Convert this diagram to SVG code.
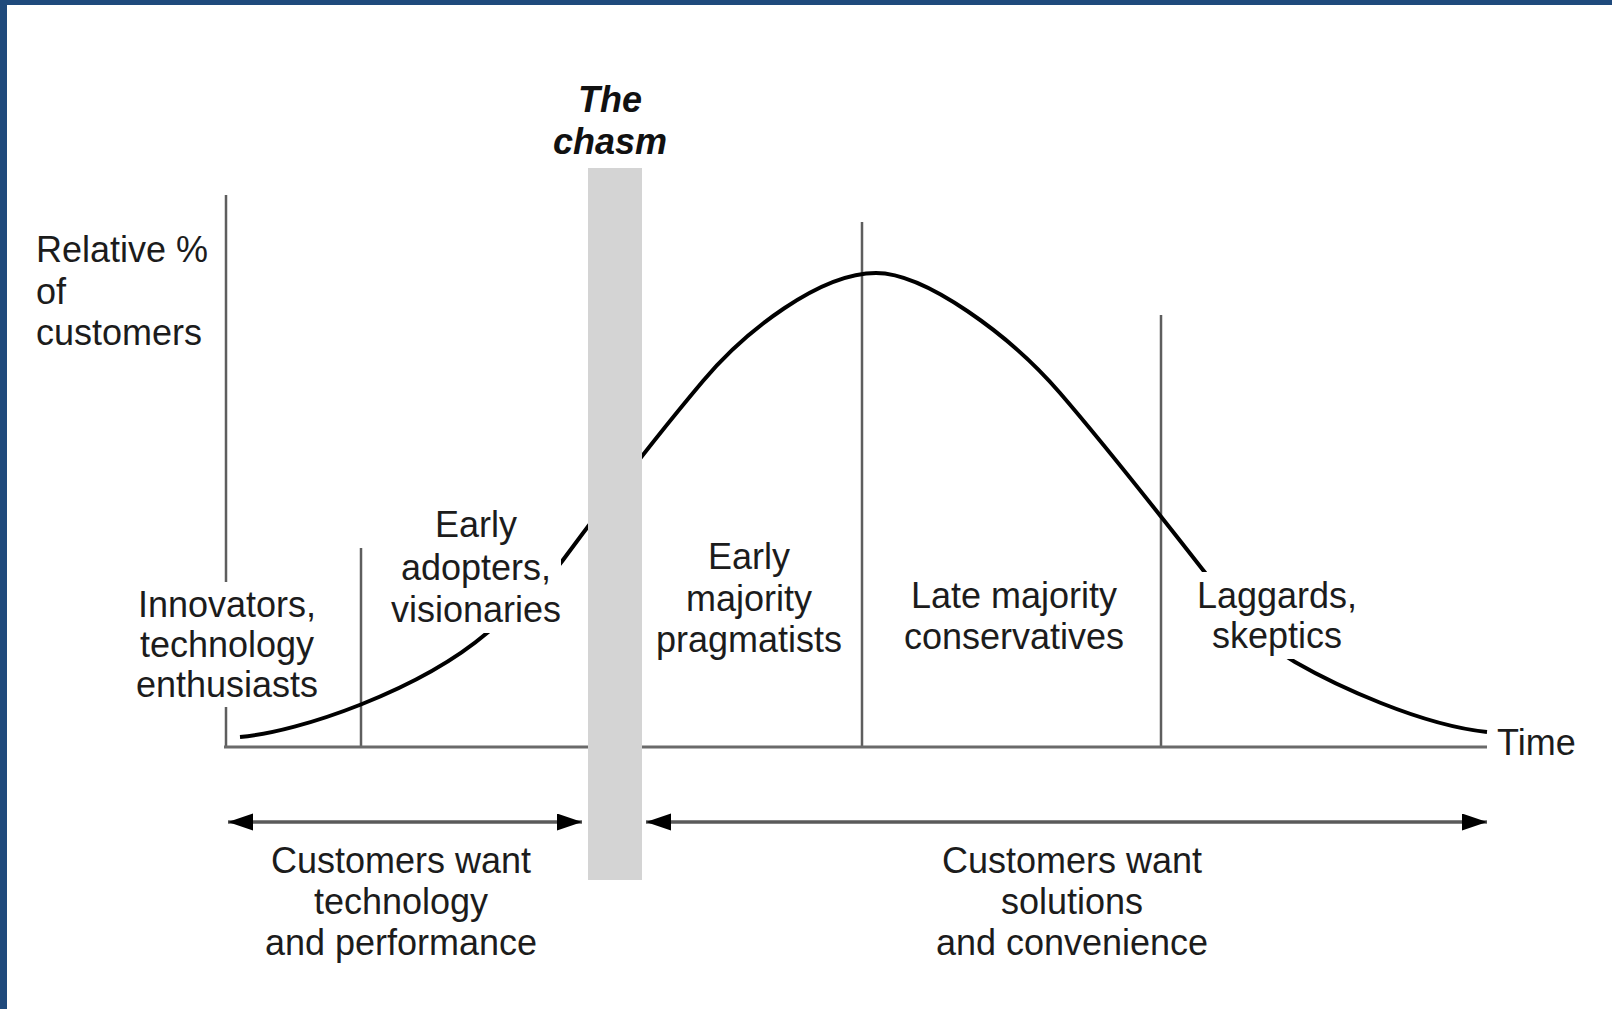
<svg xmlns="http://www.w3.org/2000/svg" width="1612" height="1009" viewBox="0 0 1612 1009">
<defs>
<style>
.t{font-family:"Liberation Sans",Arial,Helvetica,sans-serif;font-size:36px;fill:#1c1c1c;}
.c{text-anchor:middle;}
.bi{font-weight:bold;font-style:italic;fill:#111;}
.ax{stroke:#5e5e5e;stroke-width:2.5;fill:none;}
.base{stroke:#6a6a6a;stroke-width:3;fill:none;}
.curve{stroke:#000;stroke-width:4;fill:none;stroke-linecap:butt;}
.arr{stroke:#5a5a5a;stroke-width:3.5;fill:none;}
.mask{fill:#fff;}
</style>
<marker id="ah" markerUnits="userSpaceOnUse" markerWidth="26" markerHeight="18" refX="25" refY="8.5" orient="auto-start-reverse">
<path d="M0,0 L25,8.5 L0,17 Z" fill="#000"/>
</marker>
</defs>
<rect x="0" y="0" width="1612" height="1009" fill="#fff"/>
<rect x="0" y="0" width="1612" height="5" fill="#1f4a7c"/>
<rect x="0" y="0" width="7" height="1009" fill="#1f4a7c"/>

<g id="connectors">
<line class="ax" x1="226" y1="195" x2="226" y2="747"/>
<line class="ax" x1="361" y1="548" x2="361" y2="747"/>
<line class="ax" x1="862" y1="222" x2="862" y2="747"/>
<line class="ax" x1="1161" y1="315" x2="1161" y2="747"/>
<line class="base" x1="224" y1="747" x2="1487" y2="747"/>
<path class="curve" d="M240,737 C300,732 420,690 487,633 C515,610 545,585 563,560 C600,510 660,432 703,381 C745,331 820,273 876,273 C925,273 1010,335 1060,393 C1110,451 1160,515 1203,570 C1240,617 1265,645 1295,662 C1335,685 1420,725 1487,732"/>
<line class="arr" x1="228" y1="822" x2="582" y2="822" marker-start="url(#ah)" marker-end="url(#ah)"/>
<line class="arr" x1="646" y1="822" x2="1487" y2="822" marker-start="url(#ah)" marker-end="url(#ah)"/>
</g>

<g id="chasm">
<rect x="588" y="168" width="54" height="712" fill="#d4d4d4"/>
<text class="t c bi" x="610" y="112">The</text>
<text class="t c bi" x="610" y="154">chasm</text>
</g>

<g id="y-label">
<text class="t" x="36" y="262">Relative %</text>
<text class="t" x="36" y="304">of</text>
<text class="t" x="36" y="345">customers</text>
</g>

<g id="innovators">
<rect class="mask" x="131" y="582" width="192" height="125"/>
<text class="t c" x="227" y="617">Innovators,</text>
<text class="t c" x="227" y="657">technology</text>
<text class="t c" x="227" y="697">enthusiasts</text>
</g>

<g id="early-adopters">
<rect class="mask" x="385" y="503" width="176" height="130"/>
<text class="t c" x="476" y="537">Early</text>
<text class="t c" x="476" y="580">adopters,</text>
<text class="t c" x="476" y="622">visionaries</text>
</g>

<g id="early-majority">
<text class="t c" x="749" y="569">Early</text>
<text class="t c" x="749" y="611">majority</text>
<text class="t c" x="749" y="652">pragmatists</text>
</g>

<g id="late-majority">
<text class="t c" x="1014" y="608">Late majority</text>
<text class="t c" x="1014" y="649">conservatives</text>
</g>

<g id="laggards">
<rect class="mask" x="1190" y="572" width="172" height="87"/>
<text class="t c" x="1277" y="608">Laggards,</text>
<text class="t c" x="1277" y="648">skeptics</text>
</g>

<g id="time-label">
<text class="t" x="1497" y="755">Time</text>
</g>

<g id="want-technology">
<text class="t c" x="401" y="873">Customers want</text>
<text class="t c" x="401" y="914">technology</text>
<text class="t c" x="401" y="955">and performance</text>
</g>

<g id="want-solutions">
<text class="t c" x="1072" y="873">Customers want</text>
<text class="t c" x="1072" y="914">solutions</text>
<text class="t c" x="1072" y="955">and convenience</text>
</g>
</svg>
